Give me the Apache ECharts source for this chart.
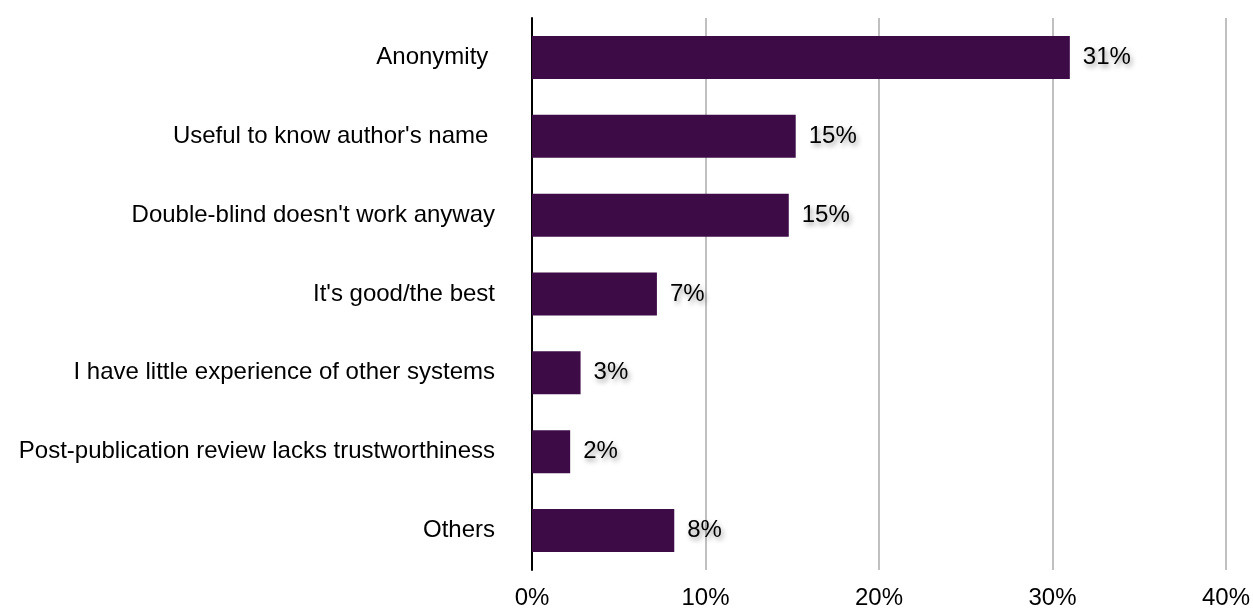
<!DOCTYPE html>
<html>
<head>
<meta charset="utf-8">
<script src="https://cdn.jsdelivr.net/npm/echarts@6/dist/echarts.min.js"></script>
<style>
  html, body { margin: 0; padding: 0; background: #fff; }
  #chart { width: 1253px; height: 610px; }
</style>
</head>
<body>
<div id="chart"></div>
<script>
// Reasons given, listed top to bottom
const categories = [
  "Anonymity ",
  "Useful to know author's name ",
  "Double-blind doesn't work anyway",
  "It's good/the best",
  "I have little experience of other systems",
  "Post-publication review lacks trustworthiness",
  "Others"
];
// Share of responses (%)
const shares = [31.0, 15.2, 14.8, 7.2, 2.8, 2.2, 8.2];
const xTicks = [0, 10, 20, 30, 40];

const FONT = "'Liberation Sans', Arial, Helvetica, sans-serif";
const chart = echarts.init(document.getElementById('chart'), null, { renderer: 'canvas' });

chart.setOption({
  animation: false,
  backgroundColor: '#ffffff',
  grid: { left: 532, right: 23, top: 18, bottom: 35, containLabel: false },
  xAxis: {
    type: 'value',
    min: xTicks[0],
    max: xTicks[xTicks.length - 1],
    interval: 10,
    axisLine: { show: false },
    axisTick: { show: false },
    axisLabel: {
      formatter: v => v + '%',
      color: '#000',
      fontFamily: FONT,
      fontSize: 24,
      margin: 16
    },
    splitLine: {
      show: true,
      lineStyle: { color: '#c0c0c0', width: 2 }
    }
  },
  yAxis: {
    type: 'category',
    data: categories,
    inverse: true,
    axisLine: { show: true, lineStyle: { color: '#000', width: 2 } },
    axisTick: { show: false },
    axisLabel: {
      color: '#000',
      fontFamily: FONT,
      fontSize: 24,
      margin: 37
    },
    splitLine: { show: false }
  },
  series: [{
    type: 'bar',
    data: shares,
    barWidth: 43,
    itemStyle: { color: '#3d0c47' },
    label: {
      show: true,
      position: 'right',
      distance: 13,
      formatter: p => Math.round(p.value) + '%',
      color: '#000',
      fontFamily: FONT,
      fontSize: 24,
      textShadowColor: 'rgba(0,0,0,0.4)',
      textShadowBlur: 5,
      textShadowOffsetX: 2,
      textShadowOffsetY: 3
    }
  }]
});
</script>
</body>
</html>
